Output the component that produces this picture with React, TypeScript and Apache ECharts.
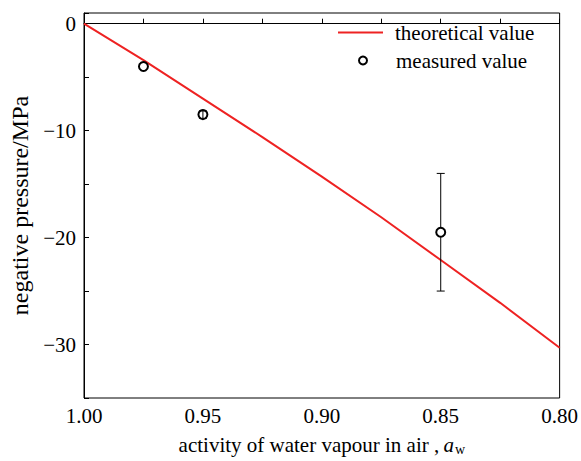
import React, { useEffect, useRef } from 'react';
import * as echarts from 'echarts';

// theoretical curve
const theoryX = [1.0, 0.975, 0.95, 0.925, 0.9, 0.875, 0.85, 0.825, 0.8];
const theoryY = [0, -3.4, -7.0, -10.6, -14.3, -18.1, -22.1, -26.1, -30.3];

// measured values with error bars
const measuredX = [0.975, 0.95, 0.85];
const measuredY = [-4.0, -8.5, -19.5];
const errorLow = [-4.0, -8.85, -25.0];
const errorHigh = [-4.0, -8.15, -14.0];

const yTickLabels = [0, -10, -20, -30];
const xTickLabels = [1.0, 0.95, 0.9, 0.85, 0.8];

const FONT = '"Liberation Serif", "Times New Roman", serif';

export default function App() {
  const ref = useRef<HTMLDivElement>(null);

  useEffect(() => {
    document.body.style.margin = '0';
    if (!ref.current) return;
    const chart = echarts.init(ref.current, undefined, { renderer: 'svg' });

    const theoryData = theoryX.map((x, i) => [x, theoryY[i]]);
    const measuredData = measuredX.map((x, i) => [x, measuredY[i]]);
    const errData = measuredX.map((x, i) => [x, measuredY[i], errorLow[i], errorHigh[i]]);

    const near = (v: number, list: number[]) => list.some((t) => Math.abs(t - v) < 1e-6);

    chart.setOption({
      animation: false,
      backgroundColor: '#fff',
      textStyle: { fontFamily: FONT, color: '#000' },
      grid: {
        left: 84,
        right: 20,
        top: 13,
        bottom: 57,
        show: true,
        borderColor: '#000',
        borderWidth: 1,
        backgroundColor: 'transparent',
      },
      legend: [
        {
          data: [{ name: 'theoretical value', icon: 'rect' }],
          orient: 'vertical',
          left: 333,
          top: 17,
          itemWidth: 45,
          itemHeight: 2,
          itemStyle: { color: '#ee2222', borderWidth: 0 },
          textStyle: { fontFamily: FONT, fontSize: 21, color: '#000', padding: [0, 0, 0, 7] },
        },
        {
          data: [{ name: 'measured value', icon: 'circle' }],
          orient: 'vertical',
          left: 353,
          top: 45,
          itemWidth: 8,
          itemHeight: 8,
          itemStyle: { color: '#fff', borderColor: '#000', borderWidth: 2 },
          textStyle: { fontFamily: FONT, fontSize: 21, color: '#000', padding: [0, 0, 0, 24] },
        },
      ],
      xAxis: {
        type: 'value',
        min: 0.8,
        max: 1.0,
        interval: 0.025,
        inverse: true,
        name: 'activity of water vapour in air ,\u2009{i|a}{s|w}',
        nameLocation: 'middle',
        nameGap: 36,
        nameTextStyle: {
          fontFamily: FONT,
          fontSize: 21,
          color: '#000',
          rich: {
            i: { fontFamily: FONT, fontSize: 21, fontStyle: 'italic', color: '#000' },
            s: { fontFamily: FONT, fontSize: 14, color: '#000', verticalAlign: 'bottom', padding: [8, 0, 0, 1] },
          },
        },
        axisLine: { show: true, lineStyle: { color: '#000', width: 1 } },
        axisTick: { show: true, inside: true, length: 5, lineStyle: { color: '#000' } },
        splitLine: { show: false },
        axisLabel: {
          margin: 7,
          fontFamily: FONT,
          fontSize: 21,
          color: '#000',
          formatter: (v: number) => (near(v, xTickLabels) ? v.toFixed(2) : ''),
        },
      },
      yAxis: {
        type: 'value',
        min: -35,
        max: 1,
        interval: 5,
        name: 'negative pressure/MPa',
        nameLocation: 'middle',
        nameRotate: 90,
        nameGap: 47,
        nameTextStyle: { fontFamily: FONT, fontSize: 24, color: '#000' },
        axisLine: { show: true, lineStyle: { color: '#000', width: 1 } },
        axisTick: { show: true, inside: true, length: 5, lineStyle: { color: '#000' } },
        splitLine: { show: false },
        axisLabel: {
          margin: 8,
          fontFamily: FONT,
          fontSize: 21,
          color: '#000',
          formatter: (v: number) =>
            near(v, yTickLabels) ? (v < 0 ? '\u2212' + Math.abs(v) : String(v)) : '',
        },
      },
      series: [
        {
          name: 'theoretical value',
          type: 'line',
          data: theoryData,
          symbol: 'none',
          smooth: false,
          lineStyle: { color: '#ee2222', width: 2 },
          itemStyle: { color: '#ee2222' },
          z: 2,
        },
        {
          name: 'measured value',
          type: 'scatter',
          data: measuredData,
          symbol: 'circle',
          symbolSize: 9,
          itemStyle: { color: '#fff', borderColor: '#000', borderWidth: 2, opacity: 1 },
          z: 3,
        },
        {
          name: 'error',
          type: 'custom',
          data: errData,
          z: 4,
          renderItem: (params: any, api: any) => {
            const x = api.value(0);
            const y = api.value(1);
            const lo = api.value(2);
            const hi = api.value(3);
            if (hi - lo <= 0) return { type: 'group', children: [] };
            const top = api.coord([x, hi]);
            const mid = api.coord([x, y]);
            const bot = api.coord([x, lo]);
            const cap = 4;
            const r = 5;
            const st = { stroke: '#000', lineWidth: 1 };
            const children: any[] = [];
            if (bot[1] - top[1] > 4 * r) {
              children.push({ type: 'line', shape: { x1: top[0], y1: top[1], x2: mid[0], y2: mid[1] - r }, style: st });
              children.push({ type: 'line', shape: { x1: mid[0], y1: mid[1] + r, x2: bot[0], y2: bot[1] }, style: st });
            } else {
              children.push({ type: 'line', shape: { x1: top[0], y1: top[1], x2: bot[0], y2: bot[1] }, style: st });
            }
            children.push({ type: 'line', shape: { x1: top[0] - cap, y1: top[1], x2: top[0] + cap, y2: top[1] }, style: st });
            children.push({ type: 'line', shape: { x1: bot[0] - cap, y1: bot[1], x2: bot[0] + cap, y2: bot[1] }, style: st });
            return { type: 'group', children };
          },
        },
      ],
    });

    return () => chart.dispose();
  }, []);

  return <div ref={ref} style={{ width: 581, height: 461 }} />;
}
